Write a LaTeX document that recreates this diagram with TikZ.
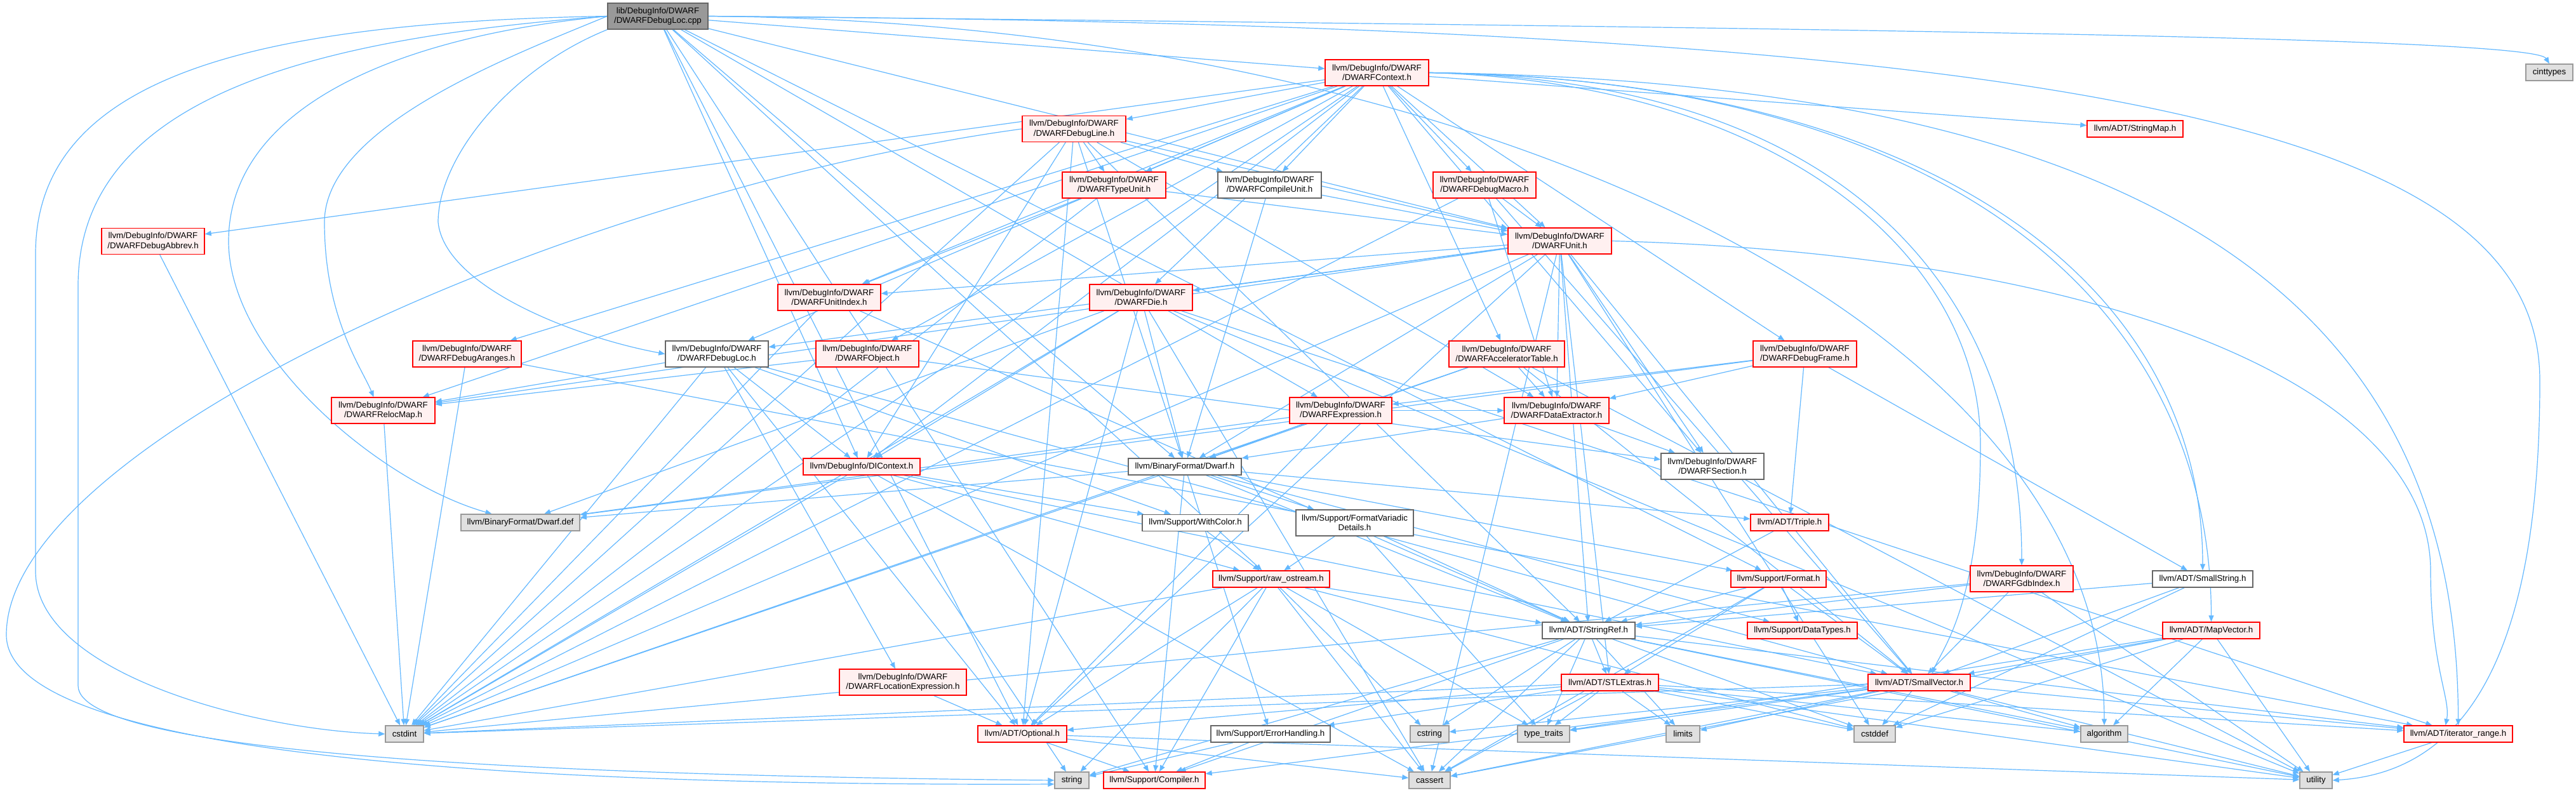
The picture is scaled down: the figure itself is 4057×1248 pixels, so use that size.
\documentclass[tikz,border=0pt]{standalone}
\usepackage{fontspec}
\setmainfont{Liberation Sans}
\usetikzlibrary{arrows.meta}
\definecolor{edgec}{HTML}{63B8FF}
\definecolor{redfill}{HTML}{FFF0F0}
\definecolor{sysfill}{HTML}{E0E0E0}
\definecolor{rootfill}{HTML}{999999}
\definecolor{greyB}{HTML}{666666}
\definecolor{greyC}{HTML}{999999}
\definecolor{redc}{HTML}{FF0000}
\pgfdeclarelayer{back}\pgfdeclarelayer{edges}\pgfsetlayers{back,edges,main}
\tikzset{
  nbase/.style={font=\fontsize{13.3}{15.3}\selectfont, align=center, inner sep=0pt, line width=1.4pt, text=black},
  rd/.style={nbase, draw=redc, fill=redfill},
  gr/.style={nbase, draw=greyB, fill=white},
  sy/.style={nbase, draw=greyC, fill=sysfill},
  rt/.style={nbase, draw=greyB, fill=rootfill},
  two/.style={minimum height=41pt},
  one/.style={minimum height=26pt},
  dep/.style={draw=edgec, line width=1.2pt, -{Triangle[length=10pt,width=8pt]}},
}
\begin{document}
\begin{tikzpicture}[x=1pt,y=-1pt]
\useasboundingbox (0,0) rectangle (4057,1248);
\begin{pgfonlayer}{back}
\fill[white] (0,0) rectangle (4057,1248);
\end{pgfonlayer}
% nodes
\node[rt,two,minimum width=158pt] (cpp) at (1036,25.5) {lib/DebugInfo/DWARF\\/DWARFDebugLoc.cpp};
\node[rd,two,minimum width=163pt] (ctx) at (2168.5,114.5) {llvm/DebugInfo/DWARF\\/DWARFContext.h};
\node[sy,one,minimum width=74pt] (cinttypes) at (4015,114) {cinttypes};
\node[rd,two,minimum width=163pt] (dline) at (1691.5,203) {llvm/DebugInfo/DWARF\\/DWARFDebugLine.h};
\node[rd,one,minimum width=151pt] (smap) at (3362.5,203) {llvm/ADT/StringMap.h};
\node[rd,two,minimum width=163pt] (tunit) at (1754.5,291.5) {llvm/DebugInfo/DWARF\\/DWARFTypeUnit.h};
\node[gr,two,minimum width=163pt] (cunit) at (1999.5,291.5) {llvm/DebugInfo/DWARF\\/DWARFCompileUnit.h};
\node[rd,two,minimum width=162pt] (dmacro) at (2338,291.5) {llvm/DebugInfo/DWARF\\/DWARFDebugMacro.h};
\node[rd,two,minimum width=162pt] (abbrev) at (241,380) {llvm/DebugInfo/DWARF\\/DWARFDebugAbbrev.h};
\node[rd,two,minimum width=163pt] (unit) at (2456.5,379.5) {llvm/DebugInfo/DWARF\\/DWARFUnit.h};
\node[rd,two,minimum width=162pt] (uidx) at (1306,468.5) {llvm/DebugInfo/DWARF\\/DWARFUnitIndex.h};
\node[rd,two,minimum width=162pt] (die) at (1797,468.5) {llvm/DebugInfo/DWARF\\/DWARFDie.h};
\node[rd,two,minimum width=171pt] (aranges) at (735.5,557.5) {llvm/DebugInfo/DWARF\\/DWARFDebugAranges.h};
\node[gr,two,minimum width=162pt] (dloc) at (1129,557.5) {llvm/DebugInfo/DWARF\\/DWARFDebugLoc.h};
\node[rd,two,minimum width=162pt] (obj) at (1366,557.5) {llvm/DebugInfo/DWARF\\/DWARFObject.h};
\node[rd,two,minimum width=182pt] (accel) at (2373,557.5) {llvm/DebugInfo/DWARF\\/DWARFAcceleratorTable.h};
\node[rd,two,minimum width=163pt] (dframe) at (2842.5,557.5) {llvm/DebugInfo/DWARF\\/DWARFDebugFrame.h};
\node[rd,two,minimum width=163pt] (reloc) at (603.5,646.5) {llvm/DebugInfo/DWARF\\/DWARFRelocMap.h};
\node[rd,two,minimum width=161pt] (expr) at (2111.5,646.5) {llvm/DebugInfo/DWARF\\/DWARFExpression.h};
\node[rd,two,minimum width=165pt] (dext) at (2451.5,646.5) {llvm/DebugInfo/DWARF\\/DWARFDataExtractor.h};
\node[rd,one,minimum width=184pt] (dicontext) at (1357,735) {llvm/DebugInfo/DIContext.h};
\node[gr,one,minimum width=178pt] (dwarfh) at (1866,735) {llvm/BinaryFormat/Dwarf.h};
\node[gr,two,minimum width=162pt] (section) at (2697,734.5) {llvm/DebugInfo/DWARF\\/DWARFSection.h};
\node[sy,one,minimum width=187pt] (dwarfdef) at (819.5,823) {llvm/BinaryFormat/Dwarf.def};
\node[gr,one,minimum width=167pt] (withcolor) at (1882.5,823.5) {llvm/Support/WithColor.h};
\node[gr,two,minimum width=185pt] (fvd) at (2133.5,823.5) {llvm/Support/FormatVariadic\\Details.h};
\node[rd,one,minimum width=123pt] (triple) at (2818.5,823) {llvm/ADT/Triple.h};
\node[rd,one,minimum width=184pt] (rawos) at (2002,912) {llvm/Support/raw\_ostream.h};
\node[rd,one,minimum width=150pt] (format) at (2801,912) {llvm/Support/Format.h};
\node[rd,two,minimum width=162pt] (gdb) at (3184,911.5) {llvm/DebugInfo/DWARF\\/DWARFGdbIndex.h};
\node[gr,one,minimum width=158pt] (sstring) at (3469,912) {llvm/ADT/SmallString.h};
\node[gr,one,minimum width=146pt] (sref) at (2502,993) {llvm/ADT/StringRef.h};
\node[rd,one,minimum width=173pt] (dtypes) at (2838.5,993) {llvm/Support/DataTypes.h};
\node[rd,one,minimum width=153pt] (mapvec) at (3482.5,993) {llvm/ADT/MapVector.h};
\node[rd,two,minimum width=200pt] (locexpr) at (1422,1074.5) {llvm/DebugInfo/DWARF\\/DWARFLocationExpression.h};
\node[rd,one,minimum width=153pt] (stlext) at (2535.5,1075) {llvm/ADT/STLExtras.h};
\node[rd,one,minimum width=161pt] (svec) at (3022.5,1075) {llvm/ADT/SmallVector.h};
\node[sy,one,minimum width=60pt] (cstdint) at (637,1156) {cstdint};
\node[rd,one,minimum width=140pt] (optional) at (1610,1156) {llvm/ADT/Optional.h};
\node[gr,one,minimum width=188pt] (errh) at (2001,1156) {llvm/Support/ErrorHandling.h};
\node[sy,one,minimum width=61pt] (cstring) at (2251.5,1156) {cstring};
\node[sy,one,minimum width=82pt] (typetraits) at (2431,1156) {type\_traits};
\node[sy,one,minimum width=53pt] (limits) at (2650.5,1156) {limits};
\node[sy,one,minimum width=65pt] (cstddef) at (2952.5,1156) {cstddef};
\node[sy,one,minimum width=74pt] (algorithm) at (3314,1156) {algorithm};
\node[rd,one,minimum width=171pt] (itrange) at (3871.5,1156) {llvm/ADT/iterator\_range.h};
\node[sy,one,minimum width=54pt] (string) at (1688,1229) {string};
\node[rd,one,minimum width=160pt] (compiler) at (1818,1229) {llvm/Support/Compiler.h};
\node[sy,one,minimum width=65pt] (cassert) at (2251.5,1229) {cassert};
\node[sy,one,minimum width=51pt] (utility) at (3647.5,1229) {utility};
% edges
\begin{pgfonlayer}{edges}
\foreach \s/\t in {cpp/ctx, cpp/unit, cpp/dwarfh, cpp/dicontext, cpp/expr, cpp/format, cpp/rawos, cpp/optional, cpp/compiler,
ctx/dline, ctx/smap, ctx/tunit, ctx/cunit, ctx/dmacro, ctx/abbrev, ctx/unit, ctx/uidx, ctx/die, ctx/aranges, ctx/dloc, ctx/obj, ctx/accel, ctx/dframe, ctx/dicontext, ctx/section, ctx/reloc, ctx/cstdint,
dline/tunit, dline/cunit, dline/unit, dline/dicontext, dline/dext, dline/sref, dline/optional, dline/cstdint, dline/dwarfh,
tunit/unit, tunit/uidx, tunit/cstdint,
cunit/unit, cunit/dwarfh,
dmacro/unit, dmacro/dext, dmacro/svec, dmacro/cstdint,
abbrev/cstdint,
unit/uidx, unit/die, unit/dloc, unit/reloc, unit/dext, unit/section, unit/dwarfh, unit/sref, unit/svec, unit/stlext, unit/optional, unit/cstdint, unit/cassert, unit/cstddef,
uidx/sref, uidx/cstdint,
die/dwarfh, die/dicontext, die/optional, die/itrange, die/cassert, die/cstdint, die/utility, die/dwarfdef,
dloc/dicontext, dloc/locexpr, dloc/reloc, dloc/optional, dloc/svec, dloc/cstdint, dloc/withcolor,
obj/reloc, obj/section,
aranges/itrange, aranges/cstdint,
accel/dext, accel/dwarfh, accel/svec, accel/utility, accel/cstdint,
dframe/dext, dframe/expr, dframe/triple, dframe/sstring, dframe/dwarfdef,
reloc/cstdint,
expr/dext, expr/dwarfh, expr/optional, expr/dwarfdef,
dext/section, dext/dwarfh,
dicontext/svec, dicontext/withcolor, dicontext/rawos, dicontext/cassert, dicontext/cstdint, dicontext/string,
dwarfh/dwarfdef, dwarfh/sref, dwarfh/compiler, dwarfh/errh, dwarfh/format, dwarfh/fvd, dwarfh/triple, dwarfh/cstdint, dwarfh/dtypes,
withcolor/rawos,
fvd/rawos, fvd/sref, fvd/typetraits,
triple/sref,
rawos/sref, rawos/compiler, rawos/cassert, rawos/cstddef, rawos/cstdint, rawos/cstring, rawos/string, rawos/typetraits, rawos/optional,
format/sref, format/stlext, format/cassert, format/dtypes, format/svec,
gdb/sref, gdb/svec, gdb/utility, gdb/cstdint,
sstring/sref, sstring/svec, sstring/cstddef,
sref/stlext, sref/itrange, sref/compiler, sref/algorithm, sref/cassert, sref/cstddef, sref/cstring, sref/limits, sref/string, sref/typetraits, sref/utility,
stlext/optional, stlext/itrange, stlext/errh, stlext/algorithm, stlext/cassert, stlext/cstddef, stlext/cstdint, stlext/limits, stlext/typetraits, stlext/utility,
svec/itrange, svec/compiler, svec/algorithm, svec/cassert, svec/cstddef, svec/cstdint, svec/cstring, svec/limits, svec/typetraits, svec/utility,
mapvec/svec, mapvec/algorithm, mapvec/cassert, mapvec/cstddef, mapvec/typetraits, mapvec/utility,
locexpr/optional,
optional/compiler, optional/cassert, optional/utility,
errh/compiler, errh/string,
itrange/utility}
  \draw[dep] (\s) -- (\t);
% routed edges
\draw[dep] (cpp.west) .. controls (400,35) and (56,120) .. (56,400) -- (56,900) .. controls (56,1060) and (400,1150) .. (cstdint.west);
\draw[dep] (cpp.west) .. controls (500,60) and (123,150) .. (123,450) -- (123,1080) .. controls (123,1190) and (900,1222) .. (string.west);
\draw[dep] (cpp.west) .. controls (600,60) and (360,180) .. (360,380) .. controls (360,560) and (600,760) .. ([xshift=-45pt]dwarfdef.north);
\draw[dep] (cpp.west) .. controls (800,90) and (511,200) .. (511,350) .. controls (511,500) and (570,580) .. ([xshift=-15pt]reloc.north);
\draw[dep] (cpp.south west) .. controls (800,110) and (690,250) .. (690,350) .. controls (700,450) and (900,530) .. (dloc.west);
\draw[dep] (dline.west) .. controls (900,300) and (10,700) .. (10,1000) .. controls (10,1200) and (900,1238) .. ([yshift=-6pt]string.west);
\draw[dep] (cpp.east) .. controls (3000,45) and (3990,60) .. (cinttypes.north);
\draw[dep] (cpp.east) .. controls (2300,35) and (3314,500) .. (algorithm.north);
\draw[dep] (cpp.east) .. controls (3300,40) and (4000,200) .. (4000,600) .. controls (4000,1000) and (3900,1215) .. (utility.east);
\draw[dep] (ctx.east) .. controls (2900,125) and (3184,450) .. (gdb.north);
\draw[dep] (ctx.east) .. controls (3100,125) and (3482,500) .. (mapvec.north);
\draw[dep] (ctx.east) .. controls (3050,125) and (3469,450) .. (sstring.north);
\draw[dep] (ctx.east) .. controls (3500,130) and (3871,550) .. (itrange.north);
\draw[dep] (ctx.east) .. controls (2800,130) and (3119,400) .. (3119,700) .. controls (3119,950) and (3060,1020) .. ([xshift=20pt]svec.north);
\draw[dep] (unit.east) .. controls (3300,400) and (3828,600) .. (3828,900) .. controls (3828,1050) and (3860,1100) .. ([xshift=-20pt]itrange.north);
\end{pgfonlayer}
\end{tikzpicture}
\end{document}
